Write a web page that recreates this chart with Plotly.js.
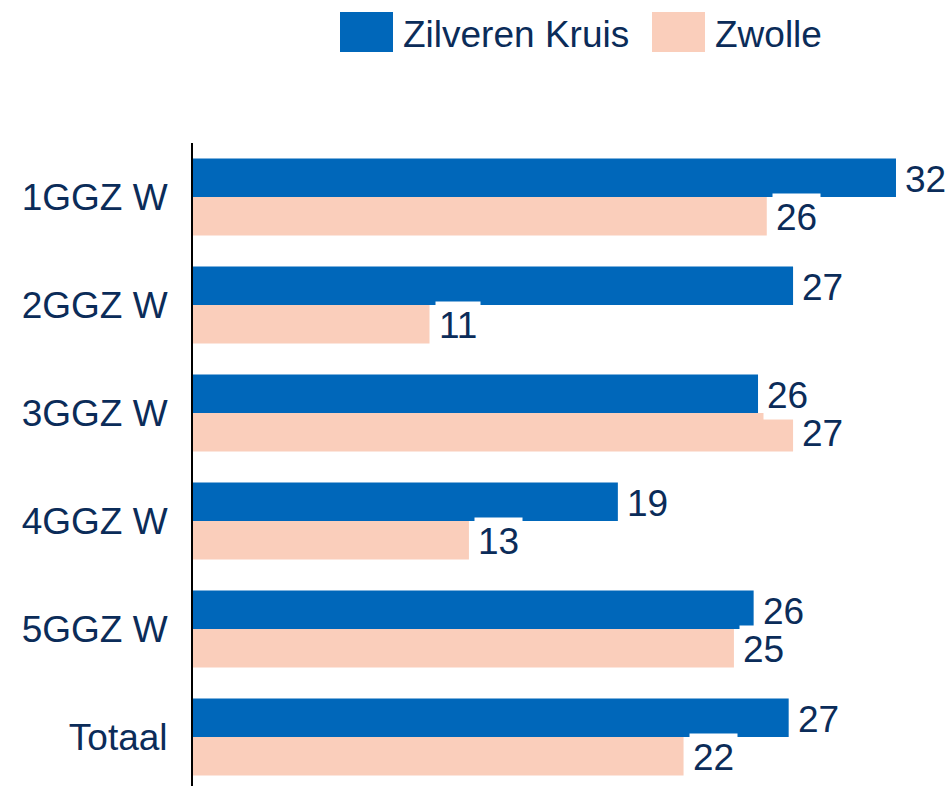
<!DOCTYPE html>
<html>
<head>
<meta charset="utf-8">
<script src="https://cdn.plot.ly/plotly-3.0.1.min.js"></script>
<style>html,body{margin:0;padding:0;background:#fff;}#chart{width:951px;height:786px;}</style>
</head>
<body>
<div id="chart"></div>
<script>
// ---- data ----
const categories = ['1GGZ W', '2GGZ W', '3GGZ W', '4GGZ W', '5GGZ W', 'Totaal'];
const seriesNames = ['Zilveren Kruis', 'Zwolle'];
const zilverenKruis = [32.1, 27.4, 25.8, 19.4, 25.6, 27.2];
const zwolle = [26.2, 10.8, 27.4, 12.6, 24.7, 22.4];

// ---- style ----
const BLUE = '#0067BA';
const PEACH = '#FACEBB';
const TEXT = '#0B2C59';
const FONT = 'Liberation Sans, Arial, sans-serif';
const FS = 37;

const W = 951, H = 786;
const M = {l: 193, r: 0, t: 143, b: 0};
const plotW = W - M.l - M.r, plotH = H - M.t - M.b;
const pxX = px => (px - M.l) / plotW;
const pxY = py => (H - M.b - py) / plotH;

const traces = [
  {type: 'bar', orientation: 'h', name: seriesNames[0], y: categories, x: zilverenKruis,
   marker: {color: BLUE}, hoverinfo: 'skip'},
  {type: 'bar', orientation: 'h', name: seriesNames[1], y: categories, x: zwolle,
   marker: {color: PEACH}, hoverinfo: 'skip'}
];

const annotations = [];
const label = (vals, shift) => vals.forEach((v, i) => annotations.push({
  x: v, y: categories[i], xref: 'x', yref: 'y', text: String(Math.round(v)),
  showarrow: false, xanchor: 'left', yanchor: 'middle', xshift: 5, yshift: shift,
  bgcolor: '#ffffff', borderpad: 3, font: {family: FONT, size: FS, color: TEXT}
}));
label(zwolle, -20);
label(zilverenKruis, 18);

// legend (large swatches)
const shapes = [];
const legendItems = [
  {name: seriesNames[0], color: BLUE, x0: 340, tx: 402},
  {name: seriesNames[1], color: PEACH, x0: 652, tx: 714}
];
legendItems.forEach(it => {
  shapes.push({type: 'rect', xref: 'paper', yref: 'paper', x0: pxX(it.x0), x1: pxX(it.x0 + 53),
    y0: pxY(52), y1: pxY(12), fillcolor: it.color, line: {width: 0}});
  annotations.push({xref: 'paper', yref: 'paper', x: pxX(it.tx), y: pxY(35), text: it.name,
    showarrow: false, xanchor: 'left', yanchor: 'middle', borderpad: 0,
    font: {family: FONT, size: FS, color: TEXT}});
});

const layout = {
  width: W, height: H, margin: M,
  paper_bgcolor: '#fff', plot_bgcolor: '#fff',
  barmode: 'group', bargap: 0.287, bargroupgap: 0,
  showlegend: false,
  font: {family: FONT, size: FS, color: TEXT},
  xaxis: {range: [0, plotW / 21.9], showgrid: false, zeroline: false, showticklabels: false,
          showline: false, ticks: ''},
  yaxis: {type: 'category', range: [-0.5 + plotH / 108, -0.5], showgrid: false, zeroline: false,
          showline: true, linecolor: '#000', linewidth: 2, ticks: '', ticklabelstandoff: 16,
          tickfont: {family: FONT, size: FS, color: TEXT}},
  shapes: shapes,
  annotations: annotations
};

Plotly.newPlot('chart', traces, layout, {displayModeBar: false, staticPlot: true});
</script>
</body>
</html>
